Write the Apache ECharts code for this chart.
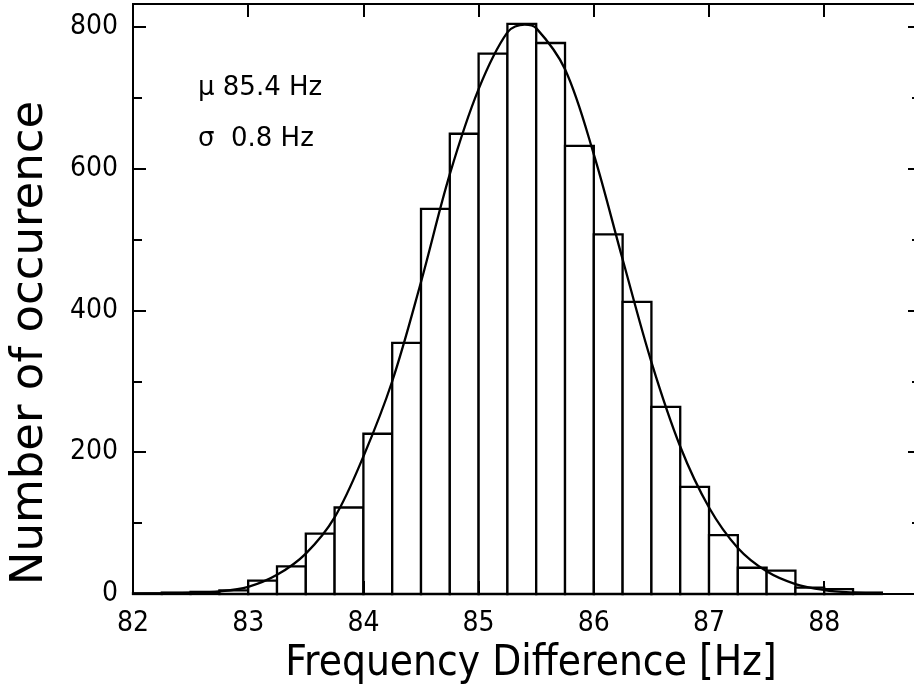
<!DOCTYPE html>
<html>
<head>
<meta charset="utf-8">
<script src="https://cdn.jsdelivr.net/npm/echarts@6/dist/echarts.min.js"></script>
<style>
html,body{margin:0;padding:0;background:#fff;overflow:hidden;}
#chart{width:914px;height:700px;}
</style>
</head>
<body>
<div id="chart"></div>
<script>
// Histogram bins (left and right edges, Hz) and counts
var binLeft  = [82.0, 82.25, 82.5, 82.75, 83.0, 83.25, 83.5, 83.75, 84.0, 84.25, 84.5, 84.75, 85.0, 85.25, 85.5, 85.75, 86.0, 86.25, 86.5, 86.75, 87.0, 87.25, 87.5, 87.75, 88.0, 88.25];
var binRight = [82.25, 82.5, 82.75, 83.0, 83.25, 83.5, 83.75, 84.0, 84.25, 84.5, 84.75, 85.0, 85.25, 85.5, 85.75, 86.0, 86.25, 86.5, 86.75, 87.0, 87.25, 87.5, 87.75, 88.0, 88.25, 88.5];
var counts   = [1, 2, 3, 5, 19, 39, 85, 122, 226, 354, 543, 649, 762, 804, 777, 632, 507, 412, 264, 151, 83, 37, 33, 9, 7, 2];

// Fitted curve
var fitX = [82.0, 82.25, 82.5, 82.75, 83.0, 83.25, 83.5, 83.75, 84.0, 84.25, 84.5, 84.75, 85.0, 85.25, 85.4, 85.5, 85.75, 86.0, 86.25, 86.5, 86.75, 87.0, 87.25, 87.5, 87.75, 88.0, 88.25, 88.5];
var fitY = [0.3, 0.8, 1.5, 3.5, 10, 27, 57, 108, 194, 300, 440, 592, 712, 792, 803, 798, 740, 620, 472, 327, 208, 122, 65, 32, 14, 5.6, 2, 0.5];

// Axis settings
var xMin = 82, xMax = 88.84, xStep = 1;
var yMin = 0, yMax = 832, yMinorStep = 100, yMajorStep = 200;

// Annotation texts
var statLines = ['\u03bc 85.4 Hz', '\u03c3  0.8 Hz'];
var xTitle = 'Frequency Difference [Hz]';
var yTitle = 'Number of occurence';

var FONT = 'DejaVu Sans';
var FONTC = '"DejaVu Sans Condensed", "DejaVu Sans"';
var chart = echarts.init(document.getElementById('chart'), null, {renderer: 'canvas'});

var histData = binLeft.map(function (l, i) { return [l, binRight[i], counts[i]]; });
var fitData = fitX.map(function (x, i) { return [x, fitY[i]]; });

function xAx(pos, showLabel) {
  return {
    type: 'value', position: pos, min: xMin, max: xMax, interval: xStep, z: 10,
    axisLine: {show: true, onZero: false, lineStyle: {color: '#000', width: 2}},
    axisTick: {show: true, inside: true, length: 13, lineStyle: {color: '#000', width: 2}},
    axisLabel: {show: showLabel, color: '#000', fontFamily: FONTC, fontSize: 28, margin: 16,
      formatter: function (v) { return Math.abs(v - Math.round(v)) < 1e-6 ? String(Math.round(v)) : ''; }},
    splitLine: {show: false}
  };
}
function yAx(pos, step, len, showLabel) {
  return {
    type: 'value', position: pos, min: yMin, max: yMax, interval: step, z: 10,
    axisLine: {show: true, onZero: false, lineStyle: {color: '#000', width: 2}},
    axisTick: {show: true, inside: true, length: len, lineStyle: {color: '#000', width: 2}},
    axisLabel: {show: showLabel, color: '#000', fontFamily: FONTC, fontSize: 28, margin: 15,
      formatter: function (v) { return (v % yMajorStep === 0) ? String(v) : ''; }},
    splitLine: {show: false}
  };
}

chart.setOption({
  animation: false,
  backgroundColor: '#fff',
  grid: {left: 133, top: 4, width: 788, height: 590, containLabel: false, outerBoundsMode: 'none'},
  xAxis: [xAx('bottom', true), xAx('top', false)],
  yAxis: [
    yAx('left', yMinorStep, 9, true),
    yAx('left', yMajorStep, 13, false),
    yAx('right', yMinorStep, 9, false),
    yAx('right', yMajorStep, 13, false)
  ],
  series: [
    {
      type: 'custom', xAxisIndex: 0, yAxisIndex: 0, z: 2,
      data: histData,
      encode: {x: [0, 1], y: 2},
      renderItem: function (params, api) {
        var p0 = api.coord([api.value(0), api.value(2)]);
        var p1 = api.coord([api.value(1), 0]);
        return {
          type: 'rect',
          shape: {x: p0[0], y: p0[1], width: p1[0] - p0[0], height: p1[1] - p0[1]},
          style: {fill: '#fff', stroke: '#000', lineWidth: 2.3}
        };
      }
    },
    {
      type: 'line', xAxisIndex: 0, yAxisIndex: 0, z: 3,
      data: fitData, smooth: 0.35, symbol: 'none',
      lineStyle: {color: '#000', width: 2.3}
    }
  ],
  graphic: [
    {type: 'text', left: 198, top: 75, z: 20, style: {text: statLines[0], fontFamily: FONT, fontSize: 26, fill: '#000'}},
    {type: 'text', left: 198, top: 126, z: 20, style: {text: statLines[1], fontFamily: FONT, fontSize: 26, fill: '#000'}},
    {type: 'text', x: 531, y: 664, z: 20, style: {text: xTitle, fontFamily: FONTC, fontSize: 42, fill: '#000', align: 'center', verticalAlign: 'middle'}},
    {type: 'text', x: 30, y: 343, rotation: Math.PI / 2, z: 20, style: {text: yTitle, fontFamily: FONT, fontSize: 45, fill: '#000', align: 'center', verticalAlign: 'middle'}}
  ]
});
</script>
</body>
</html>
